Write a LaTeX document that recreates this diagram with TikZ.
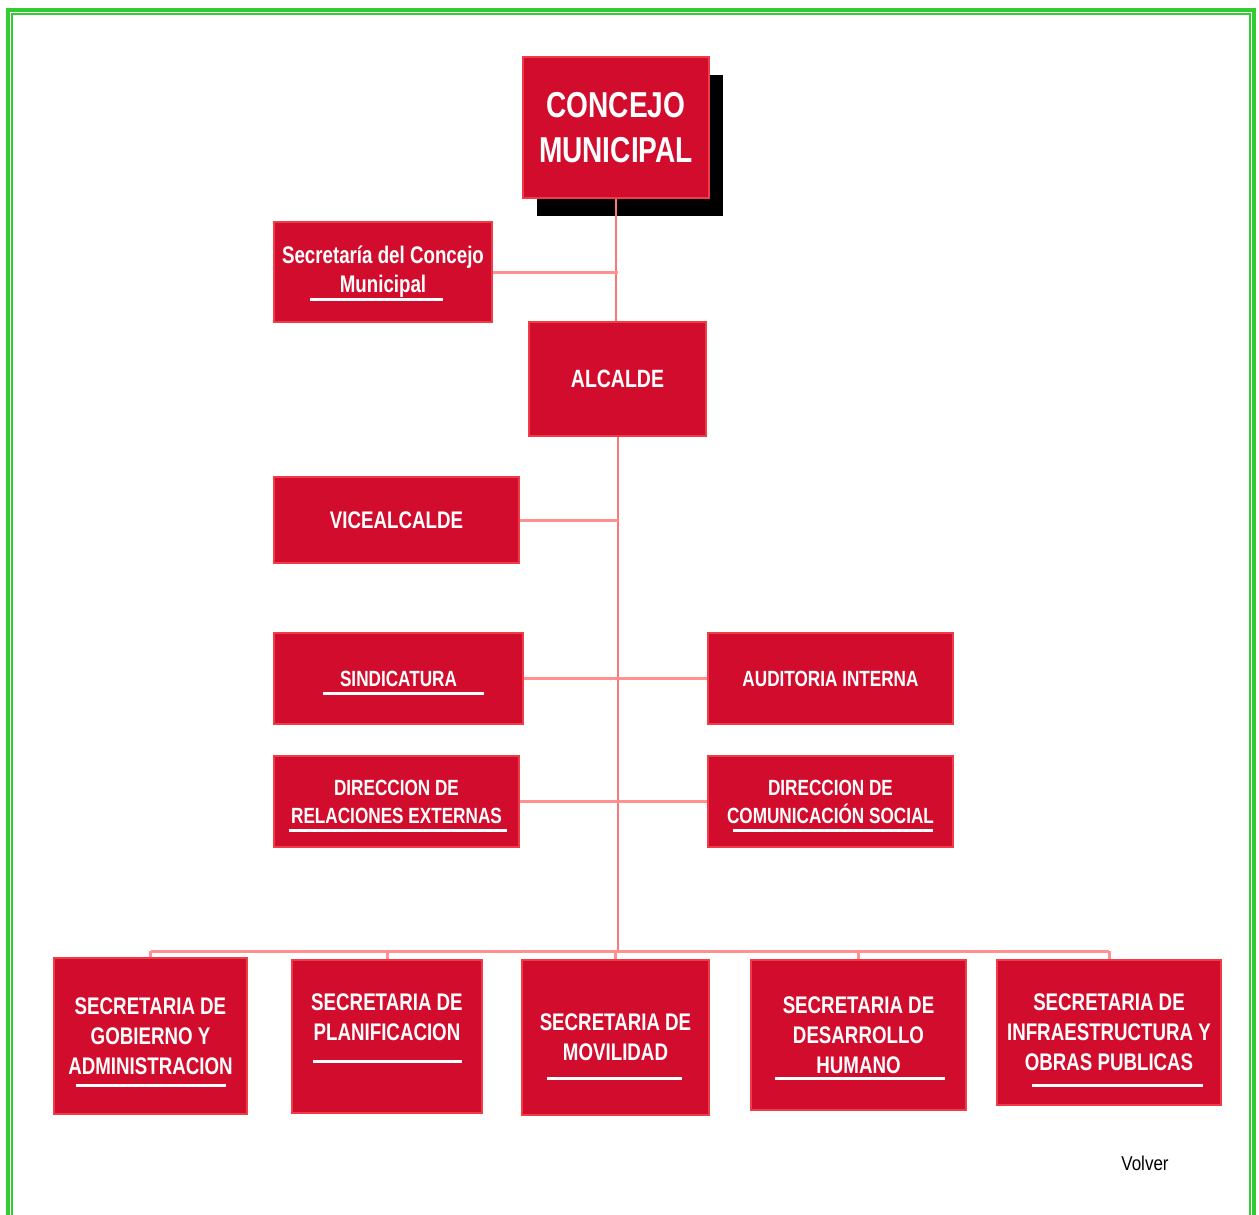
\documentclass[tikz,border=0pt]{standalone}
\usepackage{fontspec}
\setmainfont{Liberation Sans}
\newfontfamily\boxfont[FakeStretch=0.78]{Liberation Sans}
\newfontfamily\volverfont[FakeStretch=0.85]{Liberation Sans}
\usetikzlibrary{shadows}
\definecolor{boxred}{RGB}{210,12,45}
\definecolor{boxedge}{RGB}{240,60,70}
\definecolor{linkred}{RGB}{255,145,145}
\definecolor{spinered}{RGB}{250,120,120}
\definecolor{framegreen}{RGB}{51,204,51}
\begin{document}
\begin{tikzpicture}[x=1pt,y=-1pt,
  orgbox/.style={rectangle, fill=boxred, draw=boxedge, line width=2pt, text=white,
    font=\boxfont\bfseries\fontsize{24}{30}\selectfont, align=center, inner sep=0pt},
  midfont/.style={font=\boxfont\bfseries\fontsize{22}{28}\selectfont},
  link/.style={draw=linkred, line width=3pt},
  spine/.style={draw=spinered, line width=2pt},
  uline/.style={draw=white, line width=3pt},
  frameline/.style={draw=framegreen}]
\useasboundingbox (0,0) rectangle (1259,1215);

% frame
\draw[frameline, line width=4pt] (8,1215) -- (8,10) -- (1254,10) -- (1254,1215);
\draw[frameline, line width=2pt] (12,1215) -- (12,14) -- (1250,14) -- (1250,1215);

% nodes
\node[orgbox, minimum width=186, minimum height=141,
  font=\boxfont\bfseries\fontsize{36}{45}\selectfont,
  drop shadow={shadow xshift=14pt, shadow yshift=-18pt, fill=black, opacity=1}]
  (concejo) at (616,127.5) {CONCEJO\\MUNICIPAL};
\node[orgbox, minimum width=218, minimum height=100,
  font=\boxfont\bfseries\fontsize{24}{29}\selectfont]
  (secc) at (383,272) {Secretaría del Concejo\\Municipal};
\node[orgbox, minimum width=177, minimum height=114,
  font=\boxfont\bfseries\fontsize{25}{30}\selectfont]
  (alcalde) at (617.5,379) {ALCALDE};
\node[orgbox, minimum width=245, minimum height=86] (vice) at (396.5,520) {VICEALCALDE};
\node[orgbox, midfont, minimum width=249, minimum height=91] (sind) at (398.5,678.5) {SINDICATURA};
\node[orgbox, midfont, minimum width=245, minimum height=91] (audit) at (830.5,678.5) {AUDITORIA INTERNA};
\node[orgbox, midfont, minimum width=245, minimum height=91] (relext) at (396.5,801.5) {DIRECCION DE\\RELACIONES EXTERNAS};
\node[orgbox, midfont, minimum width=245, minimum height=91] (comsoc) at (830.5,801.5) {DIRECCION DE\\COMUNICACIÓN SOCIAL};

\node[orgbox, minimum width=193, minimum height=156] (gob) at (150.5,1036) {SECRETARIA DE\\GOBIERNO Y\\ADMINISTRACION};
\node[orgbox, minimum width=190, minimum height=153] (plan) at (387,1036.5) {SECRETARIA DE\\PLANIFICACION\\\strut};
\node[orgbox, minimum width=187, minimum height=155] (mov) at (615.5,1037.5) {SECRETARIA DE\\MOVILIDAD};
\node[orgbox, minimum width=215, minimum height=150] (desa) at (858.5,1035) {SECRETARIA DE\\DESARROLLO\\HUMANO};
\node[orgbox, minimum width=224, minimum height=145] (infra) at (1109,1032.5) {SECRETARIA DE\\INFRAESTRUCTURA Y\\OBRAS PUBLICAS};

\node[font=\volverfont\fontsize{20}{24}\selectfont, text=black, inner sep=0pt] (volver) at (1145,1163) {Volver};

% underlines
\draw[uline] (310,299) -- (443,299);
\draw[uline] (323,693) -- (484,693);
\draw[uline] (289,830) -- (507,830);
\draw[uline] (733,830) -- (933,830);
\draw[uline] (76,1085) -- (226,1085);
\draw[uline] (313,1061) -- (462,1061);
\draw[uline] (547,1078) -- (682,1078);
\draw[uline] (775,1078) -- (945,1078);
\draw[uline] (1032,1085) -- (1203,1085);

% connectors
\coordinate (bus) at (617,951);
\draw[spine] (concejo.south) -- (concejo.south |- alcalde.north);
\draw[spine] (alcalde.south) -- (alcalde.south |- bus);
\draw[link] (secc.east) -- (secc.east -| alcalde);
\draw[link] (vice.east) -- (vice.east -| alcalde);
\draw[link] (sind.east) -- (audit.west);
\draw[link] (relext.east) -- (comsoc.west);
\draw[link] (gob.north |- bus) -- (infra.north |- bus);
\foreach \n in {gob,plan,mov,desa,infra}
  \draw[link] (\n.north |- bus) -- (\n.north);
\end{tikzpicture}
\end{document}
